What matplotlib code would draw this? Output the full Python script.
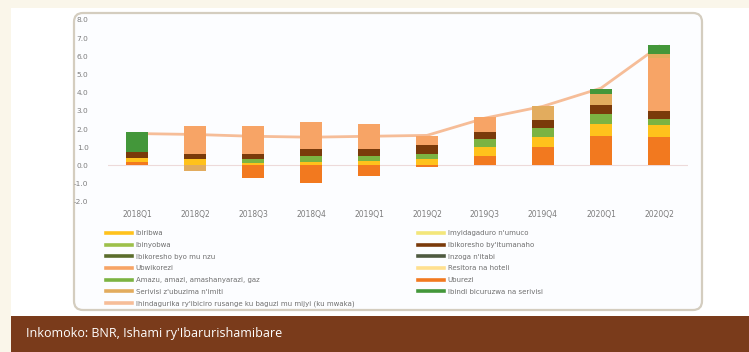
import matplotlib
matplotlib.use("Agg")
from matplotlib import pyplot as plt
from matplotlib.patches import Rectangle, FancyBboxPatch
from matplotlib.lines import Line2D
import numpy as np

# Quarters on the x axis
quarters = ["2018Q1", "2018Q2", "2018Q3", "2018Q4", "2019Q1",
            "2019Q2", "2019Q3", "2019Q4", "2020Q1", "2020Q2"]

# Contributions (percentage points), stacked from the bottom up
uburezi = [0.20, 0.00, -0.67, -0.95, -0.58, -0.10, 0.53, 1.00, 1.60, 1.55]
ibiribwa = [0.23, 0.34, 0.15, 0.20, 0.25, 0.35, 0.46, 0.58, 0.70, 0.65]
amazu = [0.00, 0.00, 0.20, 0.30, 0.25, 0.25, 0.46, 0.46, 0.50, 0.35]
itumanaho = [0.28, 0.28, 0.28, 0.40, 0.40, 0.50, 0.36, 0.46, 0.50, 0.45]
ubwikorezi = [0.00, 1.56, 1.55, 1.50, 1.37, 0.50, 0.83, 0.00, 0.00, 2.90]
ubuzima = [0.00, -0.30, 0.00, 0.00, 0.00, 0.00, 0.00, 0.79, 0.60, 0.25]
ibindi = [1.10, 0.00, 0.00, 0.00, 0.00, 0.00, 0.00, 0.00, 0.30, 0.45]
# groups too small to show up in the bars
ibinyobwa = [0.0] * 10
ibikoresho = [0.0] * 10
imyidagaduro = [0.0] * 10
inzoga = [0.0] * 10
resitora = [0.0] * 10

# Headline inflation (line)
headline = [1.75, 1.70, 1.60, 1.55, 1.60, 1.65, 2.60, 3.25, 4.25, 6.55]

y_ticks = [-2, -1, 0, 1, 2, 3, 4, 5, 6, 7, 8]
y_tick_labels = ["-2.0", "-1.0", "0.0", "1.0", "2.0", "3.0", "4.0",
                 "5.0", "6.0", "7.0", "8.0"]

# name, values, colour -- in stacking order
stack = [
    ("Uburezi", uburezi, "#f2791f"),
    ("Ibiribwa", ibiribwa, "#ffc21c"),
    ("Amazu, amazi, amashanyarazi, gaz", amazu, "#7cb342"),
    ("Ibikoresho by'itumanaho", itumanaho, "#7a3a0a"),
    ("Ubwikorezi", ubwikorezi, "#f7a466"),
    ("Serivisi z'ubuzima n'imiti", ubuzima, "#e2ac5e"),
    ("Ibindi bicuruzwa na serivisi", ibindi, "#43973a"),
    ("Ibinyobwa", ibinyobwa, "#9dc04a"),
    ("Ibikoresho byo mu nzu", ibikoresho, "#5b6d2c"),
    ("Imyidagaduro n'umuco", imyidagaduro, "#f3e67a"),
    ("Inzoga n'itabi", inzoga, "#4e5a40"),
    ("Resitora na hoteli", resitora, "#ffe08f"),
]
line_label = "Ihindagurika ry'ibiciro rusange ku baguzi mu mijyi (ku mwaka)"
line_color = "#f6bd98"

W, H = 749, 352
fig = plt.figure(figsize=(W / 100, H / 100), dpi=100)
fig.patch.set_facecolor("#faf6ea")

# white page, brown source strip, rounded chart frame (pixel coords)
fig.patches.append(Rectangle((11, 0), W - 11, H - 8, transform=None,
                             facecolor="white", edgecolor="none", zorder=-3))
fig.patches.append(Rectangle((11, 0), W - 11, 36, transform=None,
                             facecolor="#7a3b1b", edgecolor="none", zorder=-2))
fig.patches.append(FancyBboxPatch((74, 42), 628, 297, transform=None,
                                  boxstyle="round,pad=0,rounding_size=9",
                                  facecolor="#fcfdff", edgecolor="#d4cdbf",
                                  linewidth=1.6, zorder=-1))
fig.text(26 / W, 18 / H, "Inkomoko: BNR, Ishami ry'Ibarurishamibare",
         color="white", fontsize=9.0, family="Open Sans", va="center")

ax = fig.add_axes([108 / W, 1 - 201.7 / H, 580 / W, (201.7 - 20) / H])
ax.patch.set_alpha(0)

x = np.arange(len(quarters))
pos_base = np.zeros(len(quarters))
neg_base = np.zeros(len(quarters))
for name, vals, color in stack:
    vals = np.array(vals)
    base = np.where(vals >= 0, pos_base, neg_base)
    ax.bar(x, vals, 0.38, bottom=base, color=color, zorder=3)
    pos_base += np.clip(vals, 0, None)
    neg_base += np.clip(vals, None, 0)

ax.plot(x, headline, color=line_color, linewidth=2, zorder=2)
ax.axhline(0, color="#eddada", linewidth=0.8, zorder=1)

ax.set_xlim(-0.5, len(quarters) - 0.5)
ax.set_ylim(-2, 8)
ax.set_yticks(y_ticks)
ax.set_yticklabels(y_tick_labels)
ax.set_xticks(x)
ax.set_xticklabels(quarters)
ax.tick_params(axis="y", length=0, pad=14, labelsize=5.3, labelcolor="#7d7d7d")
ax.tick_params(axis="x", length=0, pad=6, labelsize=5.5, labelcolor="#7d7d7d")
for s in ax.spines.values():
    s.set_visible(False)

# legend in two columns placed by hand
handles = [Line2D([], [], color=c, linewidth=2.6) for _, _, c in stack]
labels = [n for n, _, _ in stack]
left_idx = [1, 7, 8, 4, 2, 5]
right_idx = [9, 3, 10, 11, 0, 6]
left_h = [handles[i] for i in left_idx] + [Line2D([], [], color=line_color, linewidth=2.6)]
left_l = [labels[i] for i in left_idx] + [line_label]
right_h = [handles[i] for i in right_idx]
right_l = [labels[i] for i in right_idx]

leg_kw = dict(frameon=False, fontsize=5.0, handlelength=3.8, handletextpad=0.5,
              labelspacing=0.82, borderpad=0, borderaxespad=0, loc="upper left",
              labelcolor="#6f6f6f")
fig.legend(left_h, left_l, bbox_to_anchor=(106 / W, 1 - 230.3 / H), **leg_kw)
fig.legend(right_h, right_l, bbox_to_anchor=(418 / W, 1 - 230.3 / H), **leg_kw)

fig.savefig("out.png", dpi=100, facecolor=fig.get_facecolor())
